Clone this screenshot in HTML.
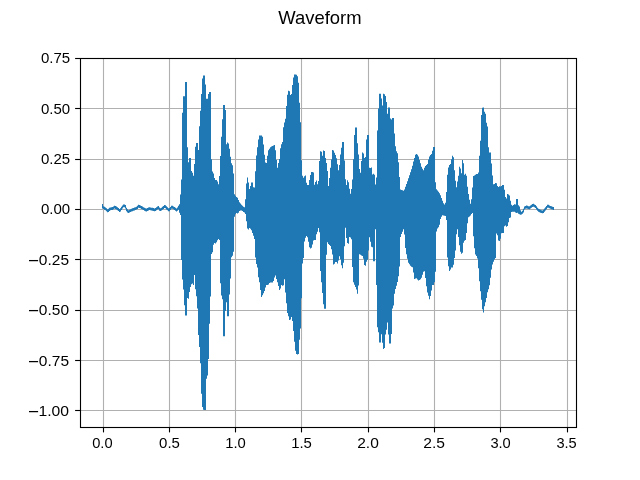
<!DOCTYPE html>
<html><head><meta charset="utf-8"><style>
html,body{margin:0;padding:0;background:#fff;width:640px;height:480px;overflow:hidden}
svg{display:block;will-change:transform}
text{-webkit-font-smoothing:antialiased}
.t{font-family:"Liberation Sans",sans-serif;font-size:14px;fill:#000}
.ti{font-family:"Liberation Sans",sans-serif;font-size:18px;fill:#000}
</style></head><body>
<svg width="640" height="480" viewBox="0 0 640 480">
<rect x="0" y="0" width="640" height="480" fill="#fff"/>
<line x1="103.5" y1="58.5" x2="103.5" y2="427.5" stroke="#b0b0b0" stroke-width="1.11"/>
<line x1="169.5" y1="58.5" x2="169.5" y2="427.5" stroke="#b0b0b0" stroke-width="1.11"/>
<line x1="235.5" y1="58.5" x2="235.5" y2="427.5" stroke="#b0b0b0" stroke-width="1.11"/>
<line x1="301.5" y1="58.5" x2="301.5" y2="427.5" stroke="#b0b0b0" stroke-width="1.11"/>
<line x1="368.5" y1="58.5" x2="368.5" y2="427.5" stroke="#b0b0b0" stroke-width="1.11"/>
<line x1="434.5" y1="58.5" x2="434.5" y2="427.5" stroke="#b0b0b0" stroke-width="1.11"/>
<line x1="500.5" y1="58.5" x2="500.5" y2="427.5" stroke="#b0b0b0" stroke-width="1.11"/>
<line x1="567.5" y1="58.5" x2="567.5" y2="427.5" stroke="#b0b0b0" stroke-width="1.11"/>
<line x1="80.5" y1="58.5" x2="576.5" y2="58.5" stroke="#b0b0b0" stroke-width="1.11"/>
<line x1="80.5" y1="108.5" x2="576.5" y2="108.5" stroke="#b0b0b0" stroke-width="1.11"/>
<line x1="80.5" y1="159.5" x2="576.5" y2="159.5" stroke="#b0b0b0" stroke-width="1.11"/>
<line x1="80.5" y1="209.5" x2="576.5" y2="209.5" stroke="#b0b0b0" stroke-width="1.11"/>
<line x1="80.5" y1="259.5" x2="576.5" y2="259.5" stroke="#b0b0b0" stroke-width="1.11"/>
<line x1="80.5" y1="310.5" x2="576.5" y2="310.5" stroke="#b0b0b0" stroke-width="1.11"/>
<line x1="80.5" y1="360.5" x2="576.5" y2="360.5" stroke="#b0b0b0" stroke-width="1.11"/>
<line x1="80.5" y1="410.5" x2="576.5" y2="410.5" stroke="#b0b0b0" stroke-width="1.11"/>
<path d="M102 203.9 V203.9 H103 V206.16 H104 V206.74 H105 V207.39 H106 V208.3 H107 V209.3 H108 V208.85 H109 V207.85 H110 V207.47 H111 V207.35 H112 V207.1 H113 V206.38 H114 V205.65 H115 V206.03 H116 V206.62 H117 V207.31 H118 V208.12 H119 V208.93 H120 V208.37 H121 V206.82 H122 V205.38 H123 V204.45 H124 V204.6 H125 V204.9 H126 V207.82 H127 V209.32 H128 V210.24 H129 V209.69 H130 V209.15 H131 V208.69 H132 V208.35 H133 V208 H134 V207.6 H135 V207.17 H136 V206.74 H137 V205.83 H138 V204.8 H139 V205.02 H140 V205.48 H141 V206.02 H142 V206.57 H143 V207.15 H144 V207.74 H145 V208.32 H146 V208.62 H147 V208.11 H148 V207.61 H149 V207.25 H150 V207.45 H151 V207.66 H152 V207.87 H153 V208.12 H154 V208.38 H155 V208.04 H156 V207.3 H157 V206.56 H158 V206.05 H159 V207.53 H160 V208.18 H161 V207.66 H162 V206.83 H163 V205.92 H164 V205.02 H165 V205.16 H166 V206.31 H167 V207.34 H168 V208.2 H169 V208.11 H170 V206.88 H171 V205.65 H172 V205.72 H173 V206.42 H174 V207.12 H175 V207.8 H176 V208.48 H177 V207.55 H178 V205.7 H179 V204.24 H180 V194.54 H181 V179.5 H182 V112.79 H183 V96.25 H184 V96.25 H185 V81.9 H186 V81.9 H187 V147.19 H188 V162.13 H189 V158 H190 V158 H191 V171 H192 V172.8 H193 V175.8 H194 V163.92 H195 V146.72 H196 V143 H197 V143 H198 V150 H199 V126.25 H200 V110.75 H201 V94 H202 V78.52 H203 V75.6 H204 V75.6 H205 V84.62 H206 V98.75 H207 V98.75 H208 V93.95 H209 V91.9 H210 V91.9 H211 V159.29 H212 V171.48 H213 V173.45 H214 V178 H215 V180 H216 V180 H217 V181.44 H218 V184.37 H219 V175.96 H220 V155.96 H221 V136.69 H222 V119.23 H223 V105 H224 V105 H225 V110 H226 V144.29 H227 V142.6 H228 V143.6 H229 V148.85 H230 V156.65 H231 V163.19 H232 V165.16 H233 V173.53 H234 V194.16 H235 V195.82 H236 V197.07 H237 V197.7 H238 V199.92 H239 V202.23 H240 V203.54 H241 V204.74 H242 V205.71 H243 V206.72 H244 V207.27 H245 V199.13 H246 V183.55 H247 V177.5 H248 V182.5 H249 V189 H250 V186.02 H251 V182.5 H252 V182.5 H253 V187.19 H254 V187.55 H255 V171.25 H256 V155.5 H257 V147.19 H258 V139.44 H259 V135.6 H260 V135.6 H261 V135.6 H262 V136.85 H263 V144.41 H264 V154.75 H265 V162.45 H266 V162.88 H267 V155.69 H268 V150.22 H269 V148.81 H270 V147.34 H271 V146.45 H272 V145.89 H273 V145.42 H274 V145.02 H275 V150.25 H276 V159.93 H277 V167.71 H278 V162.95 H279 V158.95 H280 V148.3 H281 V144.3 H282 V142.02 H283 V127.13 H284 V122.56 H285 V118.67 H286 V106.04 H287 V94.67 H288 V90.65 H289 V91.17 H290 V95 H291 V93.92 H292 V84.96 H293 V77.62 H294 V74.4 H295 V74.4 H296 V74.74 H297 V76.29 H298 V82.75 H299 V102.75 H300 V122.19 H301 V160.37 H302 V175.7 H303 V177.65 H304 V176.25 H305 V175.44 H306 V182.81 H307 V185 H308 V185 H309 V180 H310 V175.05 H311 V171.9 H312 V172.12 H313 V172.42 H314 V184.69 H315 V182.03 H316 V180.6 H317 V184.27 H318 V181 H319 V161 H320 V151.25 H321 V151.76 H322 V155.82 H323 V150.6 H324 V151.04 H325 V158 H326 V163.1 H327 V171.04 H328 V186 H329 V178.08 H330 V167.81 H331 V159.52 H332 V150.05 H333 V150.53 H334 V152.74 H335 V154.95 H336 V158.35 H337 V164.35 H338 V170.35 H339 V165 H340 V154.38 H341 V147.7 H342 V141.9 H343 V141.9 H344 V160.38 H345 V179.17 H346 V184.95 H347 V180.2 H348 V182.2 H349 V188.87 H350 V193.75 H351 V189.04 H352 V179.42 H353 V159.17 H354 V135 H355 V127.5 H356 V127.5 H357 V143.27 H358 V154.53 H359 V169.03 H360 V172.75 H361 V160.96 H362 V152.6 H363 V153.6 H364 V158 H365 V156.88 H366 V139.5 H367 V135 H368 V135 H369 V167.79 H370 V167.94 H371 V167.5 H372 V174.55 H373 V173.75 H374 V174.81 H375 V184.44 H376 V177.5 H377 V130.5 H378 V108.46 H379 V93.75 H380 V93.75 H381 V98.58 H382 V105.6 H383 V93.79 H384 V94.23 H385 V96.11 H386 V102.08 H387 V113.85 H388 V107.5 H389 V107.5 H390 V118.44 H391 V119.43 H392 V118 H393 V118 H394 V133.46 H395 V146.15 H396 V151.2 H397 V153.22 H398 V162.19 H399 V176.9 H400 V189.42 H401 V190 H402 V190.37 H403 V190.87 H404 V189.52 H405 V186.69 H406 V183.99 H407 V181.15 H408 V178.15 H409 V175.15 H410 V172.15 H411 V169.15 H412 V165.68 H413 V161.62 H414 V158.03 H415 V154.74 H416 V153.98 H417 V154.64 H418 V156.52 H419 V159.9 H420 V163.28 H421 V166.66 H422 V168.72 H423 V170.14 H424 V167.85 H425 V165.94 H426 V164.9 H427 V163.94 H428 V159.58 H429 V156.52 H430 V154.89 H431 V154.04 H432 V150.67 H433 V146.9 H434 V146.9 H435 V182.25 H436 V189.21 H437 V190.53 H438 V191.86 H439 V193.21 H440 V195.37 H441 V198.07 H442 V200.72 H443 V203.36 H444 V204.58 H445 V202.64 H446 V192.02 H447 V174.71 H448 V167.48 H449 V165.02 H450 V164.04 H451 V159.19 H452 V155.75 H453 V157.27 H454 V170.25 H455 V180.76 H456 V187.19 H457 V181.5 H458 V175.7 H459 V166.7 H460 V168.5 H461 V173.33 H462 V160 H463 V163.25 H464 V174.81 H465 V173.75 H466 V175.73 H467 V186.67 H468 V194.06 H469 V199.74 H470 V203.68 H471 V199.25 H472 V187.45 H473 V176.12 H474 V175.46 H475 V174.8 H476 V174.12 H477 V173.95 H478 V172.5 H479 V155.83 H480 V140.63 H481 V115.05 H482 V107.82 H483 V107.5 H484 V111.75 H485 V113.68 H486 V122.85 H487 V126.44 H488 V147.21 H489 V152.5 H490 V152.5 H491 V163.39 H492 V175.62 H493 V184.27 H494 V184.05 H495 V183.1 H496 V183.18 H497 V185.95 H498 V187.07 H499 V186.3 H500 V186.49 H501 V185.95 H502 V185 H503 V185 H504 V189.81 H505 V197.12 H506 V198.57 H507 V194.04 H508 V194.55 H509 V195.41 H510 V200.77 H511 V204.66 H512 V205.71 H513 V205.03 H514 V204.24 H515 V204.58 H516 V199 H517 V199 H518 V205.32 H519 V206.42 H520 V210.19 H521 V211.63 H522 V210.86 H523 V208.8 H524 V206.56 H525 V205.91 H526 V205.58 H527 V205.86 H528 V206.15 H529 V206.22 H530 V205.47 H531 V204.71 H532 V203.95 H533 V203.81 H534 V204.45 H535 V205.09 H536 V206.27 H537 V207.63 H538 V208.78 H539 V209.28 H540 V209.79 H541 V210.27 H542 V210.43 H543 V209.79 H544 V208.53 H545 V207.27 H546 V205.98 H547 V204.68 H548 V204.87 H549 V205.47 H550 V205.99 H551 V206.37 H552 V206.76 H553 V207.11 H554 V209.88 V209.88 H553 V209.6 H552 V209.21 H551 V208.82 H550 V208.37 H549 V207.78 H548 V207.83 H547 V209.13 H546 V210.42 H545 V211.68 H544 V212.94 H543 V213.19 H542 V213.02 H541 V212.67 H540 V212.16 H539 V211.65 H538 V210.81 H537 V209.45 H536 V208.09 H535 V207.37 H534 V206.73 H533 V206.92 H532 V207.67 H531 V208.43 H530 V209.15 H529 V208.95 H528 V208.66 H527 V208.38 H526 V208.83 H525 V209.6 H524 V212.52 H523 V213.83 H522 V214.6 H521 V214.77 H520 V214.15 H519 V213.7 H518 V212.7 H517 V213.05 H516 V212.57 H515 V211.85 H514 V211.69 H513 V211.78 H512 V212.02 H511 V217.39 H510 V218.02 H509 V222.32 H508 V225.98 H507 V226.67 H506 V225.52 H505 V226.16 H504 V232.9 H503 V232.9 H502 V233.24 H501 V238.66 H500 V241.05 H499 V240.55 H498 V235.22 H497 V233.52 H496 V257.92 H495 V259.58 H494 V261.76 H493 V264.5 H492 V269.5 H491 V277.75 H490 V285.35 H489 V289.2 H488 V292.2 H487 V297.9 H486 V302.17 H485 V306.13 H484 V312.5 H483 V309.33 H482 V299.71 H481 V291.25 H480 V281.35 H479 V268.33 H478 V258.6 H477 V255.9 H476 V254.45 H475 V248.15 H474 V236.15 H473 V213.03 H472 V214.09 H471 V215.44 H470 V216.52 H469 V217.2 H468 V223.32 H467 V233.07 H466 V240.03 H465 V240.69 H464 V242.75 H463 V252.75 H462 V253.75 H461 V251.78 H460 V245.2 H459 V237.08 H458 V229.28 H457 V234.17 H456 V250.38 H455 V258.08 H454 V264.69 H453 V267.5 H452 V267.5 H451 V269.45 H450 V271 H449 V266.18 H448 V257.5 H447 V220 H446 V216.02 H445 V215.76 H444 V215.47 H443 V215.15 H442 V216.82 H441 V219.04 H440 V224.81 H439 V227.26 H438 V228.61 H437 V231.45 H436 V271.78 H435 V282.36 H434 V285 H433 V285 H432 V290.4 H431 V296.09 H430 V299.22 H429 V295.7 H428 V292.6 H427 V286.3 H426 V277.9 H425 V271.25 H424 V271.7 H423 V274.7 H422 V277.7 H421 V279.23 H420 V279.97 H419 V280.6 H418 V279.61 H417 V278.37 H416 V278.49 H415 V279.06 H414 V272.5 H413 V267.37 H412 V266.71 H411 V265.8 H410 V264.3 H409 V262.8 H408 V258.82 H407 V254.21 H406 V248.12 H405 V234.58 H404 V229.25 H403 V231.78 H402 V234.01 H401 V237.12 H400 V266.5 H399 V276.25 H398 V282.12 H397 V285.78 H396 V288.99 H395 V293.8 H394 V305.45 H393 V308.45 H392 V334 H391 V343.4 H390 V343.4 H389 V334.4 H388 V322.45 H387 V329.63 H386 V334.45 H385 V347.92 H384 V349 H383 V342.63 H382 V334.2 H381 V342.5 H380 V342.5 H379 V332.31 H378 V327.23 H377 V285.12 H376 V229.37 H375 V261.25 H374 V261.25 H373 V247.37 H372 V246.71 H371 V241.87 H370 V237.18 H369 V250.56 H368 V259.84 H367 V261.81 H366 V265.75 H365 V265 H364 V258.75 H363 V256.12 H362 V255.46 H361 V254.8 H360 V254.14 H359 V285.5 H358 V293.63 H357 V289.52 H356 V286.93 H355 V284.86 H354 V282.16 H353 V266.92 H352 V239.23 H351 V237.5 H350 V236.92 H349 V243.75 H348 V242.95 H347 V238.1 H346 V227.75 H345 V246.25 H344 V262.66 H343 V268.17 H342 V265.29 H341 V259.37 H340 V256.15 H339 V260.47 H338 V263.46 H337 V262.01 H336 V261.98 H335 V263.8 H334 V264.5 H333 V254.5 H332 V249.17 H331 V245.95 H330 V244.95 H329 V243.95 H328 V242.15 H327 V254.75 H326 V308.75 H325 V308.75 H324 V304.17 H323 V292.88 H322 V282.31 H321 V270.94 H320 V232.25 H319 V227.96 H318 V231.63 H317 V234.13 H316 V240 H315 V240 H314 V240.6 H313 V244.6 H312 V247.7 H311 V248.45 H310 V247.23 H309 V241.82 H308 V237.24 H307 V235.92 H306 V237.69 H305 V241.54 H304 V257.94 H303 V263.6 H302 V298.13 H301 V328.42 H300 V339.72 H299 V353.98 H298 V354.4 H297 V354.05 H296 V350.75 H295 V341.77 H294 V330.93 H293 V321.1 H292 V316.95 H291 V319.42 H290 V319.88 H289 V316.18 H288 V313.03 H287 V303.18 H286 V292.5 H285 V279.31 H284 V285.23 H283 V285.67 H282 V285.05 H281 V288.58 H280 V290 H279 V286 H278 V282.37 H277 V279.08 H276 V275.5 H275 V277.6 H274 V280.98 H273 V282.5 H272 V282.5 H271 V282.5 H270 V283.04 H269 V284.39 H268 V285 H267 V285 H266 V287.6 H265 V291 H264 V293.3 H263 V295.33 H262 V297 H261 V289.95 H260 V282.25 H259 V277.25 H258 V267.44 H257 V263.95 H256 V257.5 H255 V239 H254 V235.67 H253 V232.89 H252 V230.26 H251 V228.78 H250 V228.04 H249 V229.39 H248 V228.46 H247 V221.15 H246 V214.12 H245 V212.4 H244 V212.08 H243 V211.12 H242 V210.46 H241 V210.43 H240 V211.09 H239 V212.81 H238 V213.62 H237 V212.96 H236 V214.21 H235 V216.84 H234 V251.85 H233 V255.85 H232 V257.15 H231 V278.46 H230 V294.62 H229 V316.25 H228 V316.25 H227 V302.19 H226 V310.94 H225 V336.25 H224 V336.25 H223 V299.23 H222 V295.38 H221 V283.25 H220 V239.95 H219 V238.95 H218 V240.26 H217 V242.29 H216 V243.6 H215 V243.1 H214 V244.69 H213 V252.21 H212 V253.95 H211 V296.44 H210 V323.75 H209 V359.12 H208 V375.38 H207 V378.63 H206 V410 H205 V410 H204 V409.85 H203 V406.94 H202 V393.75 H201 V363.25 H200 V346.9 H199 V334.9 H198 V308.56 H197 V296.15 H196 V289.37 H195 V275 H194 V285 H193 V283.4 H192 V284.3 H191 V286.95 H190 V291.95 H189 V298.75 H188 V297.95 H187 V315.6 H186 V315.6 H185 V305.3 H184 V289.62 H183 V279.55 H182 V260 H181 V214.89 H180 V212.75 H179 V209.87 H178 V210.82 H177 V211.41 H176 V210.74 H175 V210.06 H174 V209.37 H173 V208.66 H172 V208.78 H171 V210.01 H170 V211.24 H169 V211.2 H168 V210.34 H167 V209.42 H166 V208.26 H165 V208.04 H164 V208.94 H163 V209.84 H162 V210.54 H161 V211.07 H160 V210.78 H159 V209.22 H158 V209.52 H157 V210.26 H156 V210.99 H155 V211.17 H154 V210.91 H153 V210.65 H152 V210.43 H151 V210.22 H150 V210.01 H149 V210.48 H148 V210.99 H147 V211.5 H146 V211.23 H145 V210.64 H144 V210.05 H143 V209.47 H142 V208.91 H141 V208.36 H140 V207.88 H139 V207.86 H138 V208.89 H137 V209.59 H136 V210.02 H135 V210.45 H134 V210.82 H133 V211.17 H132 V211.52 H131 V212.04 H130 V212.58 H129 V213.1 H128 V212.38 H127 V211.35 H126 V208.62 H125 V207.36 H124 V207.22 H123 V208.55 H122 V210.06 H121 V211.61 H120 V211.91 H119 V211.1 H118 V210.3 H117 V209.53 H116 V208.94 H115 V208.6 H114 V209.33 H113 V209.97 H112 V210.09 H111 V210.21 H110 V210.9 H109 V211.9 H108 V212.35 H107 V211.35 H106 V210.35 H105 V209.67 H104 V209.03 H103 V208.55 H102 Z" fill="#1f77b4"/>
<rect x="80.5" y="58.5" width="496" height="369" fill="none" stroke="#000" stroke-width="1.11"/>
<line x1="103.5" y1="427.5" x2="103.5" y2="432.4" stroke="#000" stroke-width="1.11"/>
<text transform="translate(92.176 447.800) scale(1.0486 1)" class="t">0.0</text>
<line x1="169.5" y1="427.5" x2="169.5" y2="432.4" stroke="#000" stroke-width="1.11"/>
<text transform="translate(159.064 447.800) scale(1.0721 1)" class="t">0.5</text>
<line x1="235.5" y1="427.5" x2="235.5" y2="432.4" stroke="#000" stroke-width="1.11"/>
<text transform="translate(225.192 447.800) scale(1.0583 1)" class="t">1.0</text>
<line x1="301.5" y1="427.5" x2="301.5" y2="432.4" stroke="#000" stroke-width="1.11"/>
<text transform="translate(291.184 447.800) scale(1.0657 1)" class="t">1.5</text>
<line x1="368.5" y1="427.5" x2="368.5" y2="432.4" stroke="#000" stroke-width="1.11"/>
<text transform="translate(357.206 447.800) scale(1.1102 1)" class="t">2.0</text>
<line x1="434.5" y1="427.5" x2="434.5" y2="432.4" stroke="#000" stroke-width="1.11"/>
<text transform="translate(423.201 447.800) scale(1.1178 1)" class="t">2.5</text>
<line x1="500.5" y1="427.5" x2="500.5" y2="432.4" stroke="#000" stroke-width="1.11"/>
<text transform="translate(490.376 447.800) scale(1.0486 1)" class="t">3.0</text>
<line x1="567.5" y1="427.5" x2="567.5" y2="432.4" stroke="#000" stroke-width="1.11"/>
<text transform="translate(556.378 447.800) scale(1.0449 1)" class="t">3.5</text>
<line x1="75.1" y1="58.5" x2="80.5" y2="58.5" stroke="#000" stroke-width="1.11"/>
<text transform="translate(40.963 62.900) scale(1.0743 1)" class="t">0.75</text>
<line x1="75.1" y1="108.5" x2="80.5" y2="108.5" stroke="#000" stroke-width="1.11"/>
<text transform="translate(40.963 113.900) scale(1.0743 1)" class="t">0.50</text>
<line x1="75.1" y1="159.5" x2="80.5" y2="159.5" stroke="#000" stroke-width="1.11"/>
<text transform="translate(40.963 163.900) scale(1.0743 1)" class="t">0.25</text>
<line x1="75.1" y1="209.5" x2="80.5" y2="209.5" stroke="#000" stroke-width="1.11"/>
<text transform="translate(40.963 213.900) scale(1.0743 1)" class="t">0.00</text>
<line x1="75.1" y1="259.5" x2="80.5" y2="259.5" stroke="#000" stroke-width="1.11"/>
<text transform="translate(38.846 264.900) scale(1.1086 1)" class="t">0.25</text>
<rect x="29.0" y="259.98" width="9.1" height="1.25" fill="#000"/>
<line x1="75.1" y1="310.5" x2="80.5" y2="310.5" stroke="#000" stroke-width="1.11"/>
<text transform="translate(38.846 314.900) scale(1.1086 1)" class="t">0.50</text>
<rect x="29.0" y="309.98" width="9.1" height="1.25" fill="#000"/>
<line x1="75.1" y1="360.5" x2="80.5" y2="360.5" stroke="#000" stroke-width="1.11"/>
<text transform="translate(38.846 365.900) scale(1.1086 1)" class="t">0.75</text>
<rect x="29.0" y="360.98" width="9.1" height="1.25" fill="#000"/>
<line x1="75.1" y1="410.5" x2="80.5" y2="410.5" stroke="#000" stroke-width="1.11"/>
<text transform="translate(38.478 415.900) scale(1.1223 1)" class="t">1.00</text>
<rect x="29.0" y="410.98" width="9.1" height="1.25" fill="#000"/>
<text transform="translate(278.272 23.750) scale(1.0246 1)" class="ti">Waveform</text>
</svg>
</body></html>
